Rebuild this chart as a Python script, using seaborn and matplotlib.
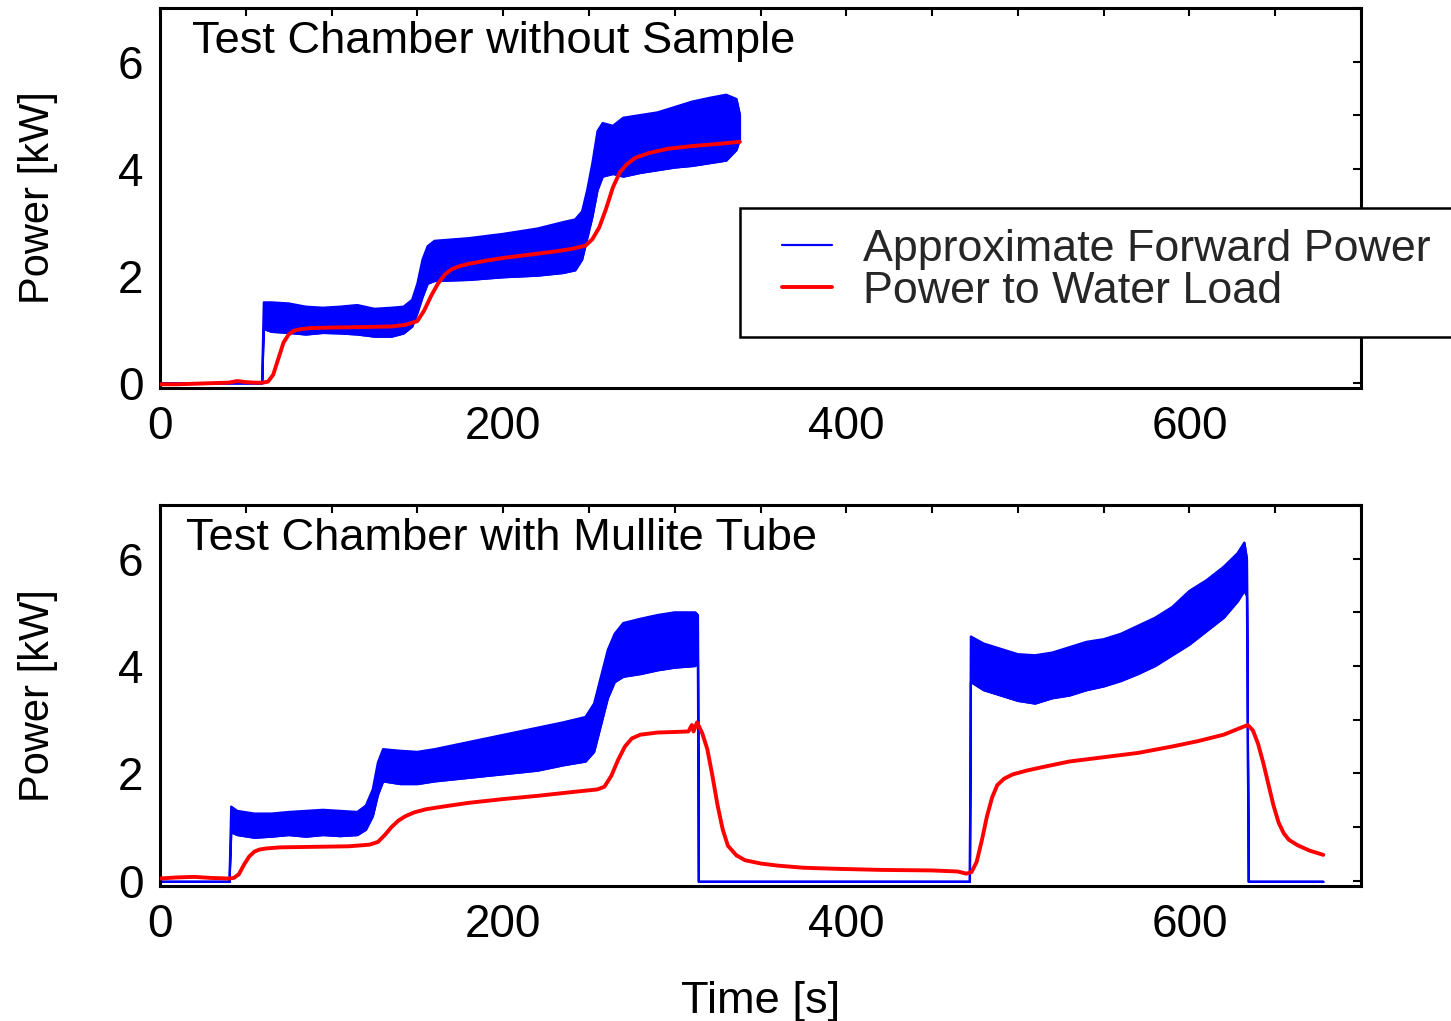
import pandas as pd
import seaborn as sns
import matplotlib.pyplot as plt
from matplotlib.lines import Line2D
from matplotlib.patches import Rectangle
from matplotlib.ticker import MultipleLocator

# ---- upper panel: test chamber without sample ----
t_top_red = [0, 10, 20, 30, 40, 45, 50, 55, 60, 63, 66, 69, 72, 75, 78, 82, 88, 100, 120, 135, 143,
             150, 154, 158, 162, 166, 170, 175, 180, 190, 200, 215, 230, 240, 248, 252, 256, 260, 264,
             268, 272, 277, 285, 296, 310, 325, 338]
p_top_red = [-0.03, -0.03, -0.02, -0.01, 0.0, 0.03, 0.01, 0.0, 0.0, 0.02, 0.15, 0.45, 0.75, 0.9, 0.97,
             1.0, 1.02, 1.03, 1.04, 1.05, 1.08, 1.15, 1.35, 1.62, 1.85, 2.02, 2.12, 2.18, 2.22, 2.28,
             2.33, 2.39, 2.45, 2.5, 2.56, 2.68, 2.9, 3.25, 3.65, 3.93, 4.08, 4.2, 4.29, 4.37, 4.42, 4.46, 4.5]

# forward power is very noisy: kept as lower / upper envelope of the trace
t_top_blue = [0, 59.5, 60.5, 65, 75, 85, 95, 105, 115, 125, 135, 142, 147, 150, 153, 156, 160, 180,
              200, 220, 235, 242, 246, 249, 252, 255, 258, 264, 270, 280, 290, 300, 310, 320, 330, 336, 338]
lo_top_blue = [-0.01, -0.01, 1.0, 0.95, 0.93, 0.9, 0.93, 0.92, 0.9, 0.86, 0.86, 0.92, 1.05, 1.3, 1.6,
               1.85, 1.9, 1.92, 1.97, 2.0, 2.05, 2.1, 2.3, 2.7, 3.1, 3.6, 3.85, 3.9, 3.85, 3.92, 3.97,
               4.02, 4.05, 4.1, 4.15, 4.35, 4.55]
hi_top_blue = [-0.01, -0.01, 1.5, 1.5, 1.48, 1.42, 1.4, 1.42, 1.45, 1.38, 1.4, 1.42, 1.55, 1.85, 2.3,
               2.55, 2.65, 2.7, 2.78, 2.88, 3.0, 3.05, 3.2, 3.6, 4.1, 4.7, 4.85, 4.8, 4.95, 5.0, 5.05,
               5.15, 5.25, 5.32, 5.38, 5.3, 5.0]

# ---- lower panel: test chamber with mullite tube ----
t_bot_red = [0, 10, 20, 30, 40, 43, 46, 49, 52, 55, 58, 62, 70, 90, 110, 122, 127, 131, 135, 139, 143,
             148, 155, 165, 180, 200, 220, 240, 255, 259, 263, 267, 271, 275, 280, 290, 300, 308, 310,
             311, 313, 316, 319, 322, 325, 328, 331, 336, 341, 350, 360, 375, 395, 420, 450, 465, 470,
             473, 476, 479, 482, 485, 488, 492, 497, 505, 515, 530, 550, 570, 590, 605, 620, 630, 634,
             637, 640, 643, 646, 649, 652, 655, 658, 663, 670, 678]
p_bot_red = [0.04, 0.06, 0.07, 0.05, 0.04, 0.05, 0.12, 0.3, 0.45, 0.54, 0.58, 0.6, 0.62, 0.63, 0.64,
             0.67, 0.72, 0.85, 1.0, 1.12, 1.2, 1.27, 1.33, 1.38, 1.45, 1.52, 1.58, 1.65, 1.7, 1.75, 1.95,
             2.25, 2.5, 2.65, 2.72, 2.76, 2.77, 2.78, 2.9, 2.78, 2.95, 2.75, 2.45, 1.95, 1.4, 0.95, 0.65,
             0.47, 0.38, 0.32, 0.28, 0.24, 0.22, 0.2, 0.19, 0.17, 0.13, 0.16, 0.35, 0.75, 1.2, 1.55, 1.78,
             1.9, 1.98, 2.05, 2.12, 2.22, 2.3, 2.38, 2.5, 2.6, 2.72, 2.85, 2.9, 2.8, 2.55, 2.2, 1.8, 1.4,
             1.08, 0.88, 0.76, 0.66, 0.56, 0.48]

t_bot_blue = [0, 40.5, 41.5, 45, 55, 65, 75, 85, 95, 105, 115, 120, 124, 127, 130, 140, 150, 160, 175,
              190, 205, 220, 235, 248, 253, 257, 261, 265, 270, 280, 290, 300, 312, 313.5, 314, 472,
              472.6, 480, 490, 500, 510, 520, 530, 540, 550, 560, 570, 580, 590, 600, 610, 620, 628,
              632, 633.5, 634.5, 678]
lo_bot_blue = [-0.02, -0.02, 0.9, 0.85, 0.8, 0.82, 0.85, 0.82, 0.85, 0.83, 0.85, 0.95, 1.2, 1.6, 1.85,
               1.8, 1.8, 1.85, 1.9, 1.95, 2.0, 2.05, 2.15, 2.22, 2.4, 2.9, 3.4, 3.7, 3.8, 3.85, 3.92,
               3.97, 4.0, 4.1, -0.02, -0.02, 3.7, 3.55, 3.45, 3.35, 3.3, 3.4, 3.45, 3.55, 3.62, 3.72,
               3.85, 4.0, 4.2, 4.4, 4.65, 4.9, 5.2, 5.4, 5.3, -0.02, -0.02]
hi_bot_blue = [-0.02, -0.02, 1.38, 1.3, 1.25, 1.25, 1.28, 1.3, 1.32, 1.3, 1.28, 1.4, 1.7, 2.2, 2.45,
               2.42, 2.4, 2.45, 2.55, 2.65, 2.75, 2.85, 2.95, 3.05, 3.3, 3.8, 4.3, 4.6, 4.8, 4.88, 4.95,
               5.0, 5.0, 4.95, -0.02, -0.02, 4.55, 4.42, 4.32, 4.22, 4.2, 4.25, 4.35, 4.45, 4.5, 4.6,
               4.75, 4.9, 5.1, 5.4, 5.6, 5.85, 6.1, 6.3, 6.0, -0.02, -0.02]

titles = ["Test Chamber without Sample", "Test Chamber with Mullite Tube"]
legend_labels = ["Approximate Forward Power", "Power to Water Load"]

BLUE = "#0000ff"
RED = "#ff0000"
FS = 32.6

sns.set_theme(style="white")
plt.rcParams["font.family"] = ["Liberation Sans", "DejaVu Sans"]

W, H = 1451, 1021
fig = plt.figure(figsize=(W / 100, H / 100), dpi=100)
ax1 = fig.add_axes([160 / W, 1 - 388 / H, 1201 / W, 380 / H])
ax2 = fig.add_axes([160 / W, 1 - 886 / H, 1201 / W, 381 / H])

panels = [
    (ax1, t_top_blue, lo_top_blue, hi_top_blue, t_top_red, p_top_red),
    (ax2, t_bot_blue, lo_bot_blue, hi_bot_blue, t_bot_red, p_bot_red),
]

for i, (ax, tb, lo, hi, tr, pr) in enumerate(panels):
    blue = pd.DataFrame({"t": tb, "lo": lo, "hi": hi})
    red = pd.DataFrame({"t": tr, "p": pr})

    # noisy band of the forward power
    ax.fill_between(blue["t"], blue["lo"], blue["hi"], color=BLUE, lw=1.0, zorder=2)
    sns.lineplot(data=blue, x="t", y="lo", ax=ax, color=BLUE, lw=1.6, sort=False,
                 estimator=None, zorder=2)
    sns.lineplot(data=blue, x="t", y="hi", ax=ax, color=BLUE, lw=1.6, sort=False,
                 estimator=None, zorder=2)
    sns.lineplot(data=red, x="t", y="p", ax=ax, color=RED, lw=2.8, sort=False,
                 estimator=None, zorder=3)

    ax.set_xlim(0, 700)
    ax.set_ylim(-0.1, 7.0)
    ax.xaxis.set_major_locator(MultipleLocator(200))
    ax.xaxis.set_minor_locator(MultipleLocator(50))
    ax.yaxis.set_major_locator(MultipleLocator(2))
    ax.yaxis.set_minor_locator(MultipleLocator(1))
    ax.tick_params(which="both", direction="in", top=True, right=True, length=6, width=1.5,
                   labelsize=33, pad=12, colors="black")
    for s in ax.spines.values():
        s.set_linewidth(2.2)
        s.set_color("black")

    ax.set_xlabel("")
    ax.set_ylabel("Power [kW]", fontsize=30, color="black")
    ax.yaxis.set_label_coords(-0.085, 0.5)
    ax.text(0.027 if i == 0 else 0.022, 0.967, titles[i], transform=ax.transAxes,
            fontsize=FS, va="top", ha="left", color="black")
    if ax.get_legend() is not None:
        ax.get_legend().remove()

ax2.set_xlabel("Time [s]", fontsize=FS, color="black")
ax2.xaxis.set_label_coords(0.5, -0.25)

# legend box (runs past the right edge of the figure, as in the original)
box = Rectangle((740 / W, 1 - 337 / H), 760 / W, 129 / H, transform=fig.transFigure,
                facecolor="white", edgecolor="black", lw=1.8, zorder=5)
fig.patches.append(box)
handles = [Line2D([], [], color=BLUE, lw=1.6), Line2D([], [], color=RED, lw=2.8)]
leg = fig.legend(handles, legend_labels, loc="upper left", bbox_to_anchor=(782 / W, 1 - 229 / H),
                 frameon=False, borderpad=0, borderaxespad=0, handlelength=1.12,
                 handletextpad=0.68, labelspacing=0.02, fontsize=32.3)
leg.set_zorder(6)

fig.savefig("out.png", dpi=100)
